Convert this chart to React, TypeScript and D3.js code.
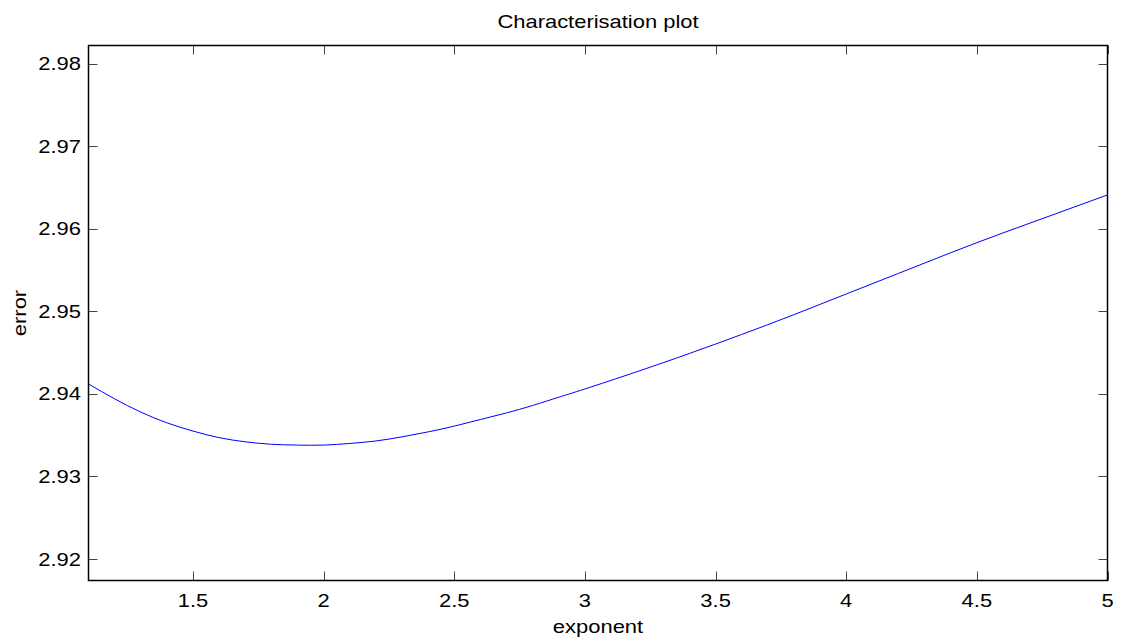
import React from "react";
import * as d3 from "d3";

const exponents = [1.1, 1.2, 1.3, 1.4, 1.5, 1.6, 1.7, 1.8, 1.9, 2.0, 2.1, 2.2, 2.3, 2.4, 2.5, 2.6, 2.7, 2.8, 2.9, 3.0, 3.2, 3.4, 3.6, 3.8, 4.0, 4.2, 4.4, 4.6, 4.8, 5.0];
const errors = [2.9412, 2.9394, 2.9378, 2.9365, 2.9355, 2.9347, 2.9342, 2.9339, 2.9338, 2.9338, 2.934, 2.9343, 2.9348, 2.9354, 2.9361, 2.9369, 2.9377, 2.9386, 2.9396, 2.9406, 2.9427, 2.9449, 2.9472, 2.9496, 2.9521, 2.9546, 2.9571, 2.9595, 2.9618, 2.9641];
const xTicks = [1.5, 2, 2.5, 3, 3.5, 4, 4.5, 5];
const yTicks = [2.92, 2.93, 2.94, 2.95, 2.96, 2.97, 2.98];

const W = 1121, H = 642;
const L = 88.5, R = 1107.5, T = 45.5, B = 580.5;
const font = "'Liberation Sans', Arial, Helvetica, sans-serif";
const FS = 18;
const SX = 1.22;

function Txt({ x, y, anchor, rotate, children }: { x: number; y: number; anchor: string; rotate?: number; children: React.ReactNode }) {
  return (
    <text
      transform={`translate(${x},${y})${rotate ? ` rotate(${rotate})` : ""} scale(${SX},1)`}
      fontSize={FS}
      textAnchor={anchor}
      fill="#000"
    >
      {children}
    </text>
  );
}

export default function App() {
  const x = d3.scaleLinear().domain([1.1, 5]).range([L, R]);
  const y = d3.scaleLinear().domain([2.9174, 2.9822]).range([B, T]);
  const line = d3.line<number>().x((_, i) => x(exponents[i])).y((d) => y(d)).curve(d3.curveNatural);
  const tl = 9;
  return (
    <svg width={W} height={H} style={{ position: "absolute", left: 0, top: 0, background: "#fff" }} fontFamily={font}>
      <rect x={0} y={0} width={W} height={H} fill="#fff" />
      <path d={line(errors) || ""} fill="none" stroke="#0000ff" strokeWidth={1} />
      {xTicks.map((t) => (
        <g key={"x" + t}>
          <line x1={Math.round(x(t)) + 0.5} x2={Math.round(x(t)) + 0.5} y1={B} y2={B - tl} stroke="#444" strokeWidth={1} />
          <line x1={Math.round(x(t)) + 0.5} x2={Math.round(x(t)) + 0.5} y1={T} y2={T + tl} stroke="#444" strokeWidth={1} />
          <Txt x={x(t)} y={607} anchor="middle">{String(t)}</Txt>
        </g>
      ))}
      {yTicks.map((t) => (
        <g key={"y" + t}>
          <line x1={L} x2={L + tl} y1={Math.round(y(t)) + 0.5} y2={Math.round(y(t)) + 0.5} stroke="#444" strokeWidth={1} />
          <line x1={R} x2={R - tl} y1={Math.round(y(t)) + 0.5} y2={Math.round(y(t)) + 0.5} stroke="#444" strokeWidth={1} />
          <Txt x={81} y={y(t) + 6.5} anchor="end">{t.toFixed(2)}</Txt>
        </g>
      ))}
      <rect x={L} y={T} width={R - L} height={B - T} fill="none" stroke="#000" strokeWidth={1.5} />
      <Txt x={(L + R) / 2} y={28} anchor="middle">Characterisation plot</Txt>
      <Txt x={(L + R) / 2} y={633} anchor="middle">exponent</Txt>
      <Txt x={26} y={(T + B) / 2} anchor="middle" rotate={-90}>error</Txt>
    </svg>
  );
}
